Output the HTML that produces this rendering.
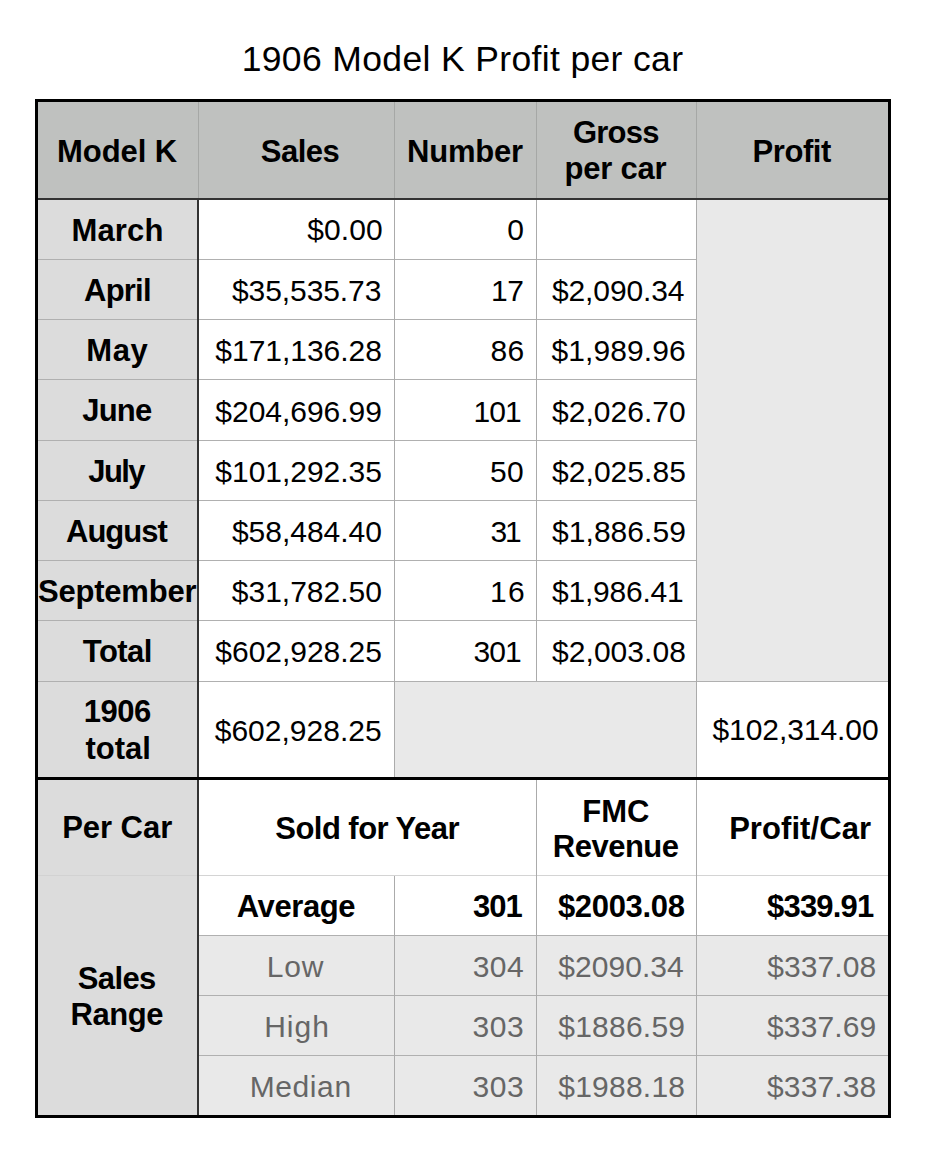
<!DOCTYPE html>
<html><head><meta charset="utf-8"><title>1906 Model K Profit per car</title>
<style>
html,body{margin:0;padding:0;background:#fff;}
body{width:926px;height:1161px;position:relative;overflow:hidden;font-family:"Liberation Sans", sans-serif;}
body>div{position:absolute;box-sizing:content-box;}
</style></head><body>
<div style="left:38px;top:102px;width:850px;height:96px;background:#bfc1bf"></div>
<div style="left:38px;top:200px;width:159px;height:915px;background:#dcdcdc"></div>
<div style="left:199px;top:200px;width:497px;height:481px;background:#fff"></div>
<div style="left:697px;top:200px;width:191px;height:481px;background:#e9e9e9"></div>
<div style="left:199px;top:682px;width:195px;height:95px;background:#fff"></div>
<div style="left:395px;top:682px;width:301px;height:95px;background:#e9e9e9"></div>
<div style="left:697px;top:682px;width:191px;height:95px;background:#fff"></div>
<div style="left:199px;top:780px;width:689px;height:155px;background:#fff"></div>
<div style="left:199px;top:936px;width:689px;height:179px;background:#e9e9e9"></div>
<div style="left:38px;top:259px;width:658px;height:1px;background:#b0b0b0"></div>
<div style="left:38px;top:319px;width:658px;height:1px;background:#b0b0b0"></div>
<div style="left:38px;top:379px;width:658px;height:1px;background:#b0b0b0"></div>
<div style="left:38px;top:440px;width:658px;height:1px;background:#b0b0b0"></div>
<div style="left:38px;top:500px;width:658px;height:1px;background:#b0b0b0"></div>
<div style="left:38px;top:560px;width:658px;height:1px;background:#b0b0b0"></div>
<div style="left:38px;top:620px;width:658px;height:1px;background:#b0b0b0"></div>
<div style="left:38px;top:681px;width:850px;height:1px;background:#b0b0b0"></div>
<div style="left:199px;top:875px;width:689px;height:1px;background:#d4d4d4"></div>
<div style="left:38px;top:875px;width:159px;height:1px;background:#d2d2d2"></div>
<div style="left:199px;top:935px;width:689px;height:1px;background:#b0b0b0"></div>
<div style="left:199px;top:995px;width:689px;height:1px;background:#b0b0b0"></div>
<div style="left:199px;top:1055px;width:689px;height:1px;background:#b0b0b0"></div>
<div style="left:198px;top:102px;width:1px;height:96px;background:#a6a8a6"></div>
<div style="left:394px;top:102px;width:1px;height:96px;background:#a6a8a6"></div>
<div style="left:536px;top:102px;width:1px;height:96px;background:#a6a8a6"></div>
<div style="left:696px;top:102px;width:1px;height:96px;background:#a6a8a6"></div>
<div style="left:394px;top:200px;width:1px;height:577px;background:#ababab"></div>
<div style="left:536px;top:200px;width:1px;height:481px;background:#ababab"></div>
<div style="left:696px;top:200px;width:1px;height:915px;background:#ababab"></div>
<div style="left:394px;top:876px;width:1px;height:239px;background:#ababab"></div>
<div style="left:536px;top:780px;width:1px;height:335px;background:#ababab"></div>
<div style="left:38px;top:198px;width:850px;height:2px;background:#333"></div>
<div style="left:197px;top:200px;width:2px;height:915px;background:#333"></div>
<div style="left:38px;top:777px;width:850px;height:3px;background:#000"></div>
<div style="left:35px;top:99px;width:856px;height:3px;background:#000"></div>
<div style="left:35px;top:1115px;width:856px;height:3px;background:#000"></div>
<div style="left:35px;top:99px;width:3px;height:1019px;background:#000"></div>
<div style="left:888px;top:99px;width:3px;height:1019px;background:#000"></div>
<div style="top:37.69px;height:43px;line-height:43px;font-size:35.5px;font-weight:normal;color:#000;white-space:nowrap;letter-spacing:0.355px;left:12.52px;width:900px;text-align:center;">1906 Model K Profit per car</div>
<div style="top:132.75px;height:37px;line-height:37px;font-size:31px;font-weight:bold;color:#000;white-space:nowrap;letter-spacing:-0.100px;left:-332.98px;width:900px;text-align:center;">Model K</div>
<div style="top:132.75px;height:37px;line-height:37px;font-size:31px;font-weight:bold;color:#000;white-space:nowrap;letter-spacing:-0.520px;left:-150.00px;width:900px;text-align:center;">Sales</div>
<div style="top:132.75px;height:37px;line-height:37px;font-size:31px;font-weight:bold;color:#000;white-space:nowrap;letter-spacing:-0.240px;left:14.93px;width:900px;text-align:center;">Number</div>
<div style="top:114.05px;height:37px;line-height:37px;font-size:31px;font-weight:bold;color:#000;white-space:nowrap;letter-spacing:-0.800px;left:165.87px;width:900px;text-align:center;">Gross</div>
<div style="top:149.75px;height:37px;line-height:37px;font-size:31px;font-weight:bold;color:#000;white-space:nowrap;letter-spacing:-0.193px;left:165.47px;width:900px;text-align:center;">per car</div>
<div style="top:132.55px;height:37px;line-height:37px;font-size:31px;font-weight:bold;color:#000;white-space:nowrap;letter-spacing:-0.436px;left:341.72px;width:900px;text-align:center;">Profit</div>
<div style="top:212.05px;height:37px;line-height:37px;font-size:31px;font-weight:bold;color:#000;white-space:nowrap;letter-spacing:0.145px;left:-332.56px;width:900px;text-align:center;">March</div>
<div style="top:212.30px;height:36px;line-height:36px;font-size:30px;font-weight:normal;color:#000;white-space:nowrap;letter-spacing:0.105px;right:543.23px;text-align:right;">$0.00</div>
<div style="top:212.30px;height:36px;line-height:36px;font-size:30px;font-weight:normal;color:#000;white-space:nowrap;letter-spacing:2.450px;right:399.70px;text-align:right;">0</div>
<div style="top:271.95px;height:37px;line-height:37px;font-size:31px;font-weight:bold;color:#000;white-space:nowrap;letter-spacing:-0.765px;left:-332.57px;width:900px;text-align:center;">April</div>
<div style="top:273.10px;height:36px;line-height:36px;font-size:30px;font-weight:normal;color:#000;white-space:nowrap;letter-spacing:-0.078px;right:544.66px;text-align:right;">$35,535.73</div>
<div style="top:273.10px;height:36px;line-height:36px;font-size:30px;font-weight:normal;color:#000;white-space:nowrap;letter-spacing:-0.420px;right:402.54px;text-align:right;">17</div>
<div style="top:273.10px;height:36px;line-height:36px;font-size:30px;font-weight:normal;color:#000;white-space:nowrap;letter-spacing:-0.123px;right:241.66px;text-align:right;">$2,090.34</div>
<div style="top:331.95px;height:37px;line-height:37px;font-size:31px;font-weight:bold;color:#000;white-space:nowrap;letter-spacing:0.530px;left:-332.77px;width:900px;text-align:center;">May</div>
<div style="top:333.20px;height:36px;line-height:36px;font-size:30px;font-weight:normal;color:#000;white-space:nowrap;letter-spacing:-0.028px;right:544.13px;text-align:right;">$171,136.28</div>
<div style="top:333.20px;height:36px;line-height:36px;font-size:30px;font-weight:normal;color:#000;white-space:nowrap;letter-spacing:0.280px;right:401.50px;text-align:right;">86</div>
<div style="top:333.20px;height:36px;line-height:36px;font-size:30px;font-weight:normal;color:#000;white-space:nowrap;letter-spacing:0.079px;right:240.33px;text-align:right;">$1,989.96</div>
<div style="top:392.25px;height:37px;line-height:37px;font-size:31px;font-weight:bold;color:#000;white-space:nowrap;letter-spacing:-0.800px;left:-333.16px;width:900px;text-align:center;">June</div>
<div style="top:393.60px;height:36px;line-height:36px;font-size:30px;font-weight:normal;color:#000;white-space:nowrap;letter-spacing:-0.028px;right:544.13px;text-align:right;">$204,696.99</div>
<div style="top:393.60px;height:36px;line-height:36px;font-size:30px;font-weight:normal;color:#000;white-space:nowrap;letter-spacing:-0.910px;right:405.25px;text-align:right;">101</div>
<div style="top:393.60px;height:36px;line-height:36px;font-size:30px;font-weight:normal;color:#000;white-space:nowrap;letter-spacing:0.035px;right:240.28px;text-align:right;">$2,026.70</div>
<div style="top:453.15px;height:37px;line-height:37px;font-size:31px;font-weight:bold;color:#000;white-space:nowrap;letter-spacing:-1.593px;left:-333.91px;width:900px;text-align:center;">July</div>
<div style="top:454.10px;height:36px;line-height:36px;font-size:30px;font-weight:normal;color:#000;white-space:nowrap;letter-spacing:-0.028px;right:544.13px;text-align:right;">$101,292.35</div>
<div style="top:454.10px;height:36px;line-height:36px;font-size:30px;font-weight:normal;color:#000;white-space:nowrap;letter-spacing:0.280px;right:402.04px;text-align:right;">50</div>
<div style="top:454.10px;height:36px;line-height:36px;font-size:30px;font-weight:normal;color:#000;white-space:nowrap;letter-spacing:0.052px;right:240.05px;text-align:right;">$2,025.85</div>
<div style="top:513.05px;height:37px;line-height:37px;font-size:31px;font-weight:bold;color:#000;white-space:nowrap;letter-spacing:-0.996px;left:-333.59px;width:900px;text-align:center;">August</div>
<div style="top:514.20px;height:36px;line-height:36px;font-size:30px;font-weight:normal;color:#000;white-space:nowrap;letter-spacing:-0.016px;right:544.12px;text-align:right;">$58,484.40</div>
<div style="top:514.20px;height:36px;line-height:36px;font-size:30px;font-weight:normal;color:#000;white-space:nowrap;letter-spacing:-2.310px;right:406.65px;text-align:right;">31</div>
<div style="top:514.20px;height:36px;line-height:36px;font-size:30px;font-weight:normal;color:#000;white-space:nowrap;letter-spacing:0.052px;right:240.05px;text-align:right;">$1,886.59</div>
<div style="top:572.55px;height:37px;line-height:37px;font-size:31px;font-weight:bold;color:#000;white-space:nowrap;letter-spacing:-0.205px;left:-332.83px;width:900px;text-align:center;">September</div>
<div style="top:574.10px;height:36px;line-height:36px;font-size:30px;font-weight:normal;color:#000;white-space:nowrap;letter-spacing:-0.019px;right:544.20px;text-align:right;">$31,782.50</div>
<div style="top:574.10px;height:36px;line-height:36px;font-size:30px;font-weight:normal;color:#000;white-space:nowrap;letter-spacing:1.260px;right:400.13px;text-align:right;">16</div>
<div style="top:574.10px;height:36px;line-height:36px;font-size:30px;font-weight:normal;color:#000;white-space:nowrap;letter-spacing:-0.236px;right:242.58px;text-align:right;">$1,986.41</div>
<div style="top:632.75px;height:37px;line-height:37px;font-size:31px;font-weight:bold;color:#000;white-space:nowrap;letter-spacing:-0.555px;left:-332.69px;width:900px;text-align:center;">Total</div>
<div style="top:634.40px;height:36px;line-height:36px;font-size:30px;font-weight:normal;color:#000;white-space:nowrap;letter-spacing:-0.028px;right:544.13px;text-align:right;">$602,928.25</div>
<div style="top:634.40px;height:36px;line-height:36px;font-size:30px;font-weight:normal;color:#000;white-space:nowrap;letter-spacing:-0.980px;right:405.32px;text-align:right;">301</div>
<div style="top:634.40px;height:36px;line-height:36px;font-size:30px;font-weight:normal;color:#000;white-space:nowrap;letter-spacing:0.052px;right:240.05px;text-align:right;">$2,003.08</div>
<div style="top:693.25px;height:37px;line-height:37px;font-size:31px;font-weight:bold;color:#000;white-space:nowrap;letter-spacing:-0.520px;left:-332.73px;width:900px;text-align:center;">1906</div>
<div style="top:730.15px;height:37px;line-height:37px;font-size:31px;font-weight:bold;color:#000;white-space:nowrap;letter-spacing:0.040px;left:-331.79px;width:900px;text-align:center;">total</div>
<div style="top:712.60px;height:36px;line-height:36px;font-size:30px;font-weight:normal;color:#000;white-space:nowrap;letter-spacing:0.014px;right:544.31px;text-align:right;">$602,928.25</div>
<div style="top:711.90px;height:36px;line-height:36px;font-size:30px;font-weight:normal;color:#000;white-space:nowrap;letter-spacing:-0.056px;right:47.40px;text-align:right;">$102,314.00</div>
<div style="top:809.15px;height:37px;line-height:37px;font-size:31px;font-weight:bold;color:#000;white-space:nowrap;letter-spacing:-0.030px;left:-332.84px;width:900px;text-align:center;">Per Car</div>
<div style="top:809.95px;height:37px;line-height:37px;font-size:31px;font-weight:bold;color:#000;white-space:nowrap;letter-spacing:-0.532px;left:-82.88px;width:900px;text-align:center;">Sold for Year</div>
<div style="top:792.75px;height:37px;line-height:37px;font-size:31px;font-weight:bold;color:#000;white-space:nowrap;letter-spacing:0.040px;left:165.81px;width:900px;text-align:center;">FMC</div>
<div style="top:828.25px;height:37px;line-height:37px;font-size:31px;font-weight:bold;color:#000;white-space:nowrap;letter-spacing:-0.497px;left:165.66px;width:900px;text-align:center;">Revenue</div>
<div style="top:810.35px;height:37px;line-height:37px;font-size:31px;font-weight:bold;color:#000;white-space:nowrap;letter-spacing:0.071px;left:350.12px;width:900px;text-align:center;">Profit/Car</div>
<div style="top:959.65px;height:37px;line-height:37px;font-size:31px;font-weight:bold;color:#000;white-space:nowrap;letter-spacing:-0.660px;left:-333.32px;width:900px;text-align:center;">Sales</div>
<div style="top:996.25px;height:37px;line-height:37px;font-size:31px;font-weight:bold;color:#000;white-space:nowrap;letter-spacing:-0.450px;left:-333.19px;width:900px;text-align:center;">Range</div>
<div style="top:888.15px;height:37px;line-height:37px;font-size:31px;font-weight:bold;color:#000;white-space:nowrap;letter-spacing:-0.403px;left:-154.08px;width:900px;text-align:center;">Average</div>
<div style="top:888.15px;height:37px;line-height:37px;font-size:31px;font-weight:bold;color:#000;white-space:nowrap;letter-spacing:-1.010px;right:404.33px;text-align:right;">301</div>
<div style="top:888.15px;height:37px;line-height:37px;font-size:31px;font-weight:bold;color:#000;white-space:nowrap;letter-spacing:-0.320px;right:241.38px;text-align:right;">$2003.08</div>
<div style="top:888.15px;height:37px;line-height:37px;font-size:31px;font-weight:bold;color:#000;white-space:nowrap;letter-spacing:-0.823px;right:52.64px;text-align:right;">$339.91</div>
<div style="top:948.60px;height:36px;line-height:36px;font-size:30px;font-weight:normal;color:#666;white-space:nowrap;letter-spacing:0.840px;left:-154.49px;width:900px;text-align:center;">Low</div>
<div style="top:948.60px;height:36px;line-height:36px;font-size:30px;font-weight:normal;color:#666;white-space:nowrap;letter-spacing:0.490px;right:401.83px;text-align:right;">304</div>
<div style="top:948.60px;height:36px;line-height:36px;font-size:30px;font-weight:normal;color:#666;white-space:nowrap;letter-spacing:0.060px;right:242.24px;text-align:right;">$2090.34</div>
<div style="top:948.60px;height:36px;line-height:36px;font-size:30px;font-weight:normal;color:#666;white-space:nowrap;letter-spacing:0.093px;right:49.77px;text-align:right;">$337.08</div>
<div style="top:1008.60px;height:36px;line-height:36px;font-size:30px;font-weight:normal;color:#666;white-space:nowrap;letter-spacing:1.027px;left:-152.97px;width:900px;text-align:center;">High</div>
<div style="top:1008.60px;height:36px;line-height:36px;font-size:30px;font-weight:normal;color:#666;white-space:nowrap;letter-spacing:0.525px;right:401.79px;text-align:right;">303</div>
<div style="top:1008.60px;height:36px;line-height:36px;font-size:30px;font-weight:normal;color:#666;white-space:nowrap;letter-spacing:0.220px;right:240.80px;text-align:right;">$1886.59</div>
<div style="top:1008.60px;height:36px;line-height:36px;font-size:30px;font-weight:normal;color:#666;white-space:nowrap;letter-spacing:0.105px;right:49.75px;text-align:right;">$337.69</div>
<div style="top:1069.20px;height:36px;line-height:36px;font-size:30px;font-weight:normal;color:#666;white-space:nowrap;letter-spacing:0.588px;left:-149.31px;width:900px;text-align:center;">Median</div>
<div style="top:1069.20px;height:36px;line-height:36px;font-size:30px;font-weight:normal;color:#666;white-space:nowrap;letter-spacing:0.525px;right:401.79px;text-align:right;">303</div>
<div style="top:1069.20px;height:36px;line-height:36px;font-size:30px;font-weight:normal;color:#666;white-space:nowrap;letter-spacing:0.220px;right:240.80px;text-align:right;">$1988.18</div>
<div style="top:1069.20px;height:36px;line-height:36px;font-size:30px;font-weight:normal;color:#666;white-space:nowrap;letter-spacing:0.105px;right:49.75px;text-align:right;">$337.38</div>
</body></html>
